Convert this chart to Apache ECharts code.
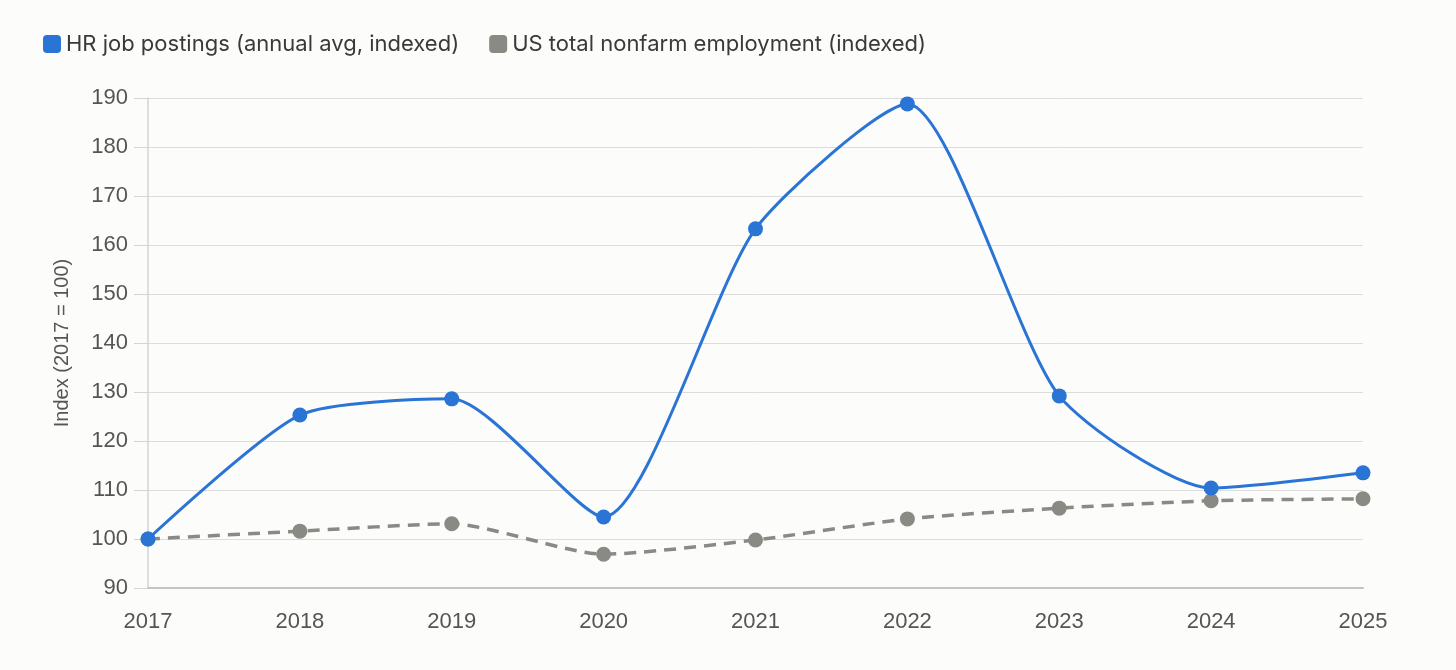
<!DOCTYPE html>
<html><head><meta charset="utf-8">
<script src="https://cdn.jsdelivr.net/npm/echarts@6/dist/echarts.min.js"></script>
<style>html,body{margin:0;padding:0;background:#fcfcfa;}#c{width:1456px;height:670px;}</style>
</head><body><div id="c"></div>
<script>
var years = ['2017','2018','2019','2020','2021','2022','2023','2024','2025'];
var hrPostings = [100, 125.3, 128.6, 104.5, 163.3, 188.8, 129.2, 110.4, 113.5];
var usEmployment = [100, 101.6, 103.1, 96.9, 99.8, 104.1, 106.3, 107.8, 108.2];
var seriesNames = ['HR job postings (annual avg, indexed)', 'US total nonfarm employment (indexed)'];
var chart = echarts.init(document.getElementById('c'));
chart.setOption({
  backgroundColor: '#fcfcfa',
  animation: false,
  legend: {
    left: 38, top: 28, itemWidth: 18, itemHeight: 18, itemGap: 30,
    icon: 'path://M4,0 H14 A4,4 0 0 1 18,4 V14 A4,4 0 0 1 14,18 H4 A4,4 0 0 1 0,14 V4 A4,4 0 0 1 4,0 Z',
    textStyle: { fontFamily: 'Inter', fontSize: 22, color: '#3a3a3a' },
    data: seriesNames
  },
  grid: { left: 148, right: 93, top: 98, bottom: 82 },
  xAxis: {
    type: 'category', data: years, boundaryGap: false,
    axisLine: { lineStyle: { color: '#c4c4c4', width: 2 } },
    axisTick: { show: false },
    axisLabel: { fontFamily: 'Liberation Sans, Arial', fontSize: 22, color: '#555', margin: 23 },
    splitLine: { show: false }
  },
  yAxis: {
    type: 'value', min: 90, max: 190, interval: 10,
    name: 'Index (2017 = 100)', nameLocation: 'middle', nameGap: 76, nameRotate: 90,
    nameTextStyle: { fontFamily: 'Liberation Sans, Arial', fontSize: 20, color: '#555' },
    axisLine: { show: true, lineStyle: { color: '#d4d4d4', width: 1.5 } },
    axisTick: { show: true, length: 14, lineStyle: { color: '#d4d4d4' } },
    axisLabel: { fontFamily: 'Liberation Sans, Arial', fontSize: 22, color: '#555', margin: 20 },
    splitLine: { lineStyle: { color: '#dcdcdc' } }
  },
  series: [
    {
      name: seriesNames[0], type: 'line', data: hrPostings, smooth: 0.22,
      symbol: 'circle', symbolSize: 15, z: 3,
      itemStyle: { color: '#2a74d6' },
      lineStyle: { color: '#2a74d6', width: 3 }
    },
    {
      name: seriesNames[1], type: 'line', data: usEmployment, smooth: 0.22,
      symbol: 'circle', symbolSize: 15, z: 2,
      itemStyle: { color: '#8a8a85' },
      lineStyle: { color: '#8a8a85', width: 3.5, type: [12, 8] }
    }
  ]
});
</script></body></html>
